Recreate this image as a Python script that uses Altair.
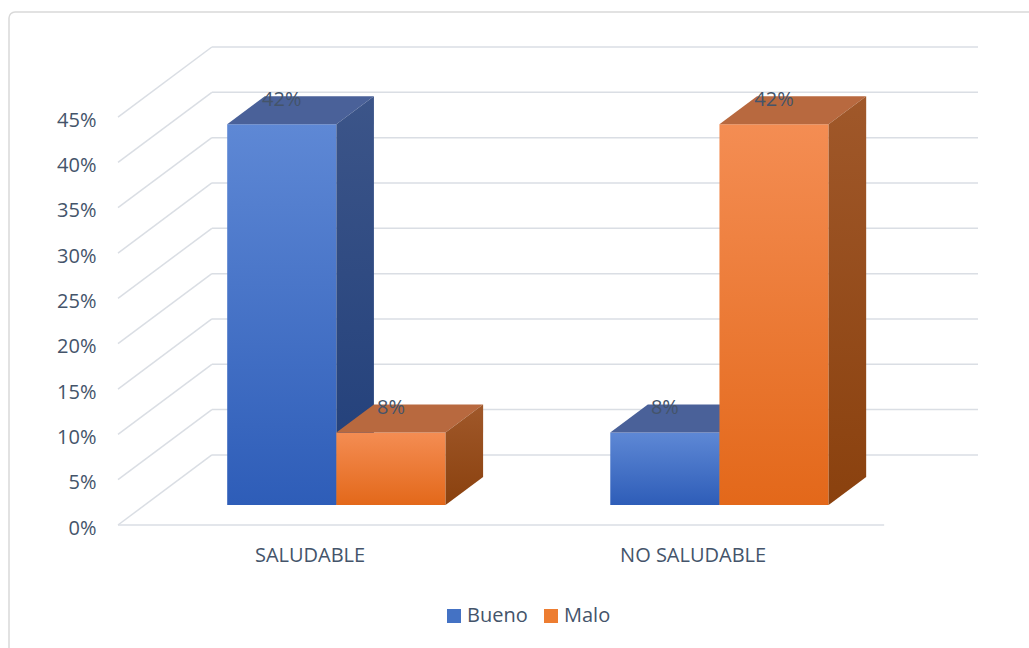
import json
import altair as alt
import pandas as pd

# ---------------- data ----------------
categories = ["SALUDABLE", "NO SALUDABLE"]
series = ["Bueno", "Malo"]
bueno = [42, 8]
malo = [8, 42]
y_ticks = [0, 5, 10, 15, 20, 25, 30, 35, 40, 45]

# ---------------- style / projection constants ----------------
TXT = "#44546A"
GRID = "#DADEE4"
FONT = "Open Sans"
BW = 0.285          # bar width (category units)
DX = 0.245          # oblique depth offset in x (category units, full depth)
DY = 7.73           # oblique depth offset in y (percent units, full depth)
D0, D1 = 0.286, 0.686   # bar front / back depth
n = len(categories)
ns = len(series)
XMIN, XMAX = -0.5, n - 0.5
YMAX = max(y_ticks)

styles = {
    "Bueno": dict(front=("#5E88D5", "#2E5DB8"), top="#4A6199", side=("#3C5589", "#203E79"), legend="#4472C4"),
    "Malo": dict(front=("#F48D53", "#E3681A"), top="#B8693F", side=("#A0582A", "#8A410E"), legend="#ED7D31"),
}

rows = []
for j, (s, vals) in enumerate(zip(series, [bueno, malo])):
    for i, (c, v) in enumerate(zip(categories, vals)):
        rows.append({"i": i, "j": j, "category": c, "series": s, "value": v,
                     "bid": f"{i}-{j}", "label": f"{v}%"})
bars = pd.DataFrame(rows)
grid = pd.DataFrame({"t": y_ticks})

xs = alt.Scale(domain=[XMIN, XMAX + DX], nice=False, zero=False)
ys = alt.Scale(domain=[0, YMAX + DY], nice=False, zero=False)

x_axis = alt.Axis(values=list(range(n)), labelExpr=f"{json.dumps(categories)}[datum.value]",
                  title=None, domain=False, ticks=False, grid=False, labelFontSize=20,
                  labelFont=FONT, labelColor=TXT, labelPadding=20, labelFlush=False,
                  labelOverlap=False)
y_axis = alt.Axis(values=y_ticks, labelExpr="datum.value + '%'", title=None, domain=False,
                  ticks=False, grid=False, labelFontSize=20, labelFont=FONT, labelColor=TXT,
                  labelPadding=22, labelOffset=3, labelOverlap=False, labelFlush=False)


def X(f, **kw):
    return alt.X(f"{f}:Q", scale=xs, axis=x_axis, **kw)


def Y(f, **kw):
    return alt.Y(f"{f}:Q", scale=ys, axis=y_axis, **kw)


def grad(top, bottom):
    return alt.Gradient(gradient="linear", x1=0, x2=0, y1=0, y2=1,
                        stops=[alt.GradientStop(color=top, offset=0),
                               alt.GradientStop(color=bottom, offset=1)])


# frame
frame = alt.Chart(pd.DataFrame({"a": [0]})).mark_rect(
    fillOpacity=0, stroke="#D9D9D9", strokeWidth=1.5, cornerRadius=6
).encode(x=alt.value(-109), x2=alt.value(940), y=alt.value(-35), y2=alt.value(630))

# left wall diagonals
diag = alt.Chart(grid).transform_calculate(
    gx=f"{XMIN}", gx2=f"{XMIN + DX}", gy2=f"datum.t + {DY}"
).mark_rule(color=GRID, strokeWidth=1.5).encode(
    x=X("gx"), x2="gx2:Q", y=Y("t"), y2="gy2:Q"
)

# back wall lines
back = alt.Chart(grid).transform_calculate(
    gx=f"{XMIN + DX}", gx2=f"{XMAX + DX}", gy=f"datum.t + {DY}"
).mark_rule(color=GRID, strokeWidth=1.5).encode(
    x=X("gx"), x2="gx2:Q", y=Y("gy")
)

# floor front edge
floor = alt.Chart(grid).transform_filter("datum.t == 0").transform_calculate(
    gx=f"{XMIN}", gx2=f"{XMAX}"
).mark_rule(color=GRID, strokeWidth=1.5).encode(
    x=X("gx"), x2="gx2:Q", y=Y("t")
)

base = alt.Chart(bars).transform_calculate(
    xL=f"datum.i + (datum.j - {ns / 2}) * {BW}"
)

# legend carrier (invisible)
legend_layer = base.transform_calculate(
    fx=f"datum.xL + {D0 * DX}", fy=f"{D0 * DY}"
).mark_square(opacity=0).encode(
    x=X("fx"), y=Y("fy"),
    color=alt.Color("series:N",
                    scale=alt.Scale(domain=series, range=[styles[s]["legend"] for s in series]),
                    legend=alt.Legend(title=None, orient="none", legendX=326, legendY=559,
                                      direction="horizontal", symbolType="square",
                                      symbolSize=196, symbolOpacity=1, symbolStrokeWidth=0,
                                      labelFontSize=20, labelFont=FONT, labelColor=TXT,
                                      columnPadding=13, labelOffset=3, padding=0))
)

layers = [frame, diag, back, floor, legend_layer]

for s in series:
    st = styles[s]
    b = base.transform_filter(alt.datum.series == s)
    front = b.transform_calculate(
        fx=f"datum.xL + {D0 * DX}", fx2=f"datum.xL + {BW + D0 * DX}",
        fy=f"{D0 * DY}", fy2=f"datum.value + {D0 * DY}"
    ).mark_rect(color=grad(*st["front"])).encode(
        x=X("fx"), x2="fx2:Q", y=Y("fy"), y2="fy2:Q"
    )
    folded = b.transform_calculate(dA=f"{D0}", dB=f"{D1}").transform_fold(
        ["dA", "dB"], as_=["k", "d"]
    )
    top = folded.transform_calculate(
        ty=f"datum.value + datum.d * {DY}",
        tx=f"datum.xL + datum.d * {DX}",
        tx2=f"datum.xL + {BW} + datum.d * {DX}",
    ).mark_area(orient="horizontal", color=st["top"]).encode(
        y=Y("ty"), x=X("tx", stack=None), x2="tx2:Q", detail="bid:N"
    )
    side = folded.transform_calculate(
        sx=f"datum.xL + {BW} + datum.d * {DX}",
        sy=f"datum.d * {DY}",
        sy2=f"datum.value + datum.d * {DY}",
    ).mark_area(orient="vertical", color=grad(*st["side"])).encode(
        x=X("sx"), y=Y("sy", stack=None), y2="sy2:Q", detail="bid:N"
    )
    layers += [front, top, side]

labels = base.transform_calculate(
    lx=f"datum.xL + {BW / 2 + D0 * DX}", ly=f"datum.value + {D0 * DY}"
).mark_text(dy=-18, baseline="alphabetic", align="center", fontSize=20, font=FONT,
            color=TXT).encode(x=X("lx"), y=Y("ly"), text="label:N")
layers.append(labels)

chart = alt.layer(*layers).properties(
    width=860, height=478,
    padding={"left": 118, "top": 47, "right": 51, "bottom": 123},
    autosize=alt.AutoSizeParams(type="none"),
    background="white",
).configure_view(stroke=None)

chart.save("out.html", embed_options={"renderer": "svg", "actions": False})
